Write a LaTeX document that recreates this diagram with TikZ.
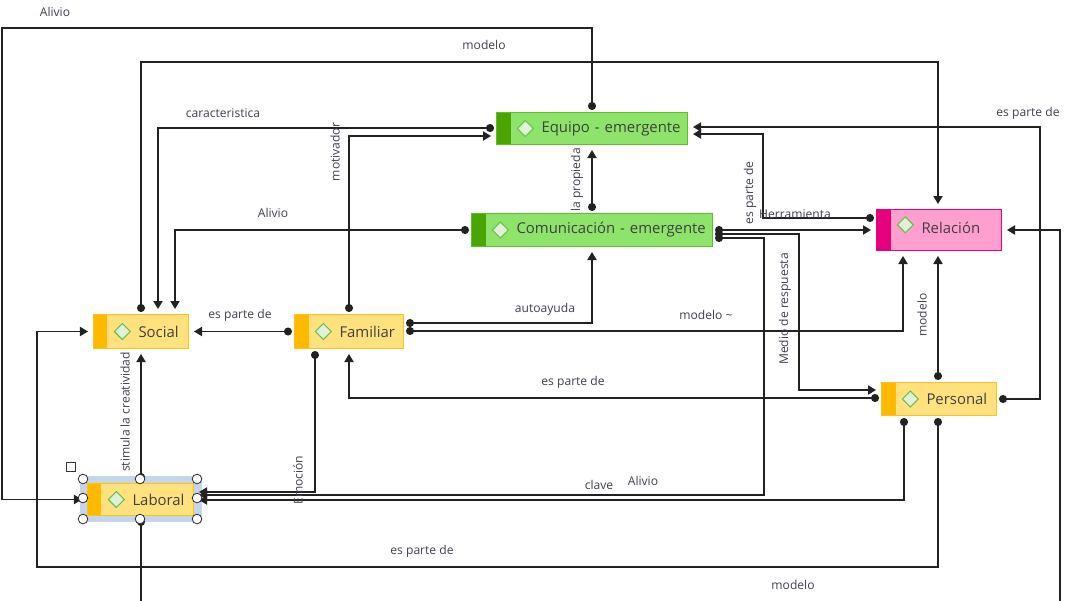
\documentclass[tikz,border=0pt]{standalone}
\usepackage{fontspec}
\setmainfont{Open Sans}
\usetikzlibrary{arrows.meta}

\definecolor{grnstrip}{HTML}{4AA500}
\definecolor{grnbody}{HTML}{8EE46A}
\definecolor{grnline}{HTML}{5CC02C}
\definecolor{pnkstrip}{HTML}{E6007E}
\definecolor{pnkbody}{HTML}{FF9FCF}
\definecolor{ylwstrip}{HTML}{FFBA00}
\definecolor{ylwbody}{HTML}{FFE27E}
\definecolor{ylwline}{HTML}{FFC21A}
\definecolor{diamline}{HTML}{6CC04A}
\definecolor{diamfill}{HTML}{DFF1D9}
\definecolor{selblue}{HTML}{C6D6EA}
\definecolor{lbltext}{HTML}{404050}
\definecolor{wire}{HTML}{222222}

\tikzset{
  diamlift/.initial=0cm,
  entity/.style n args={3}{rectangle, draw=#1, line width=0.7pt, fill=#2, anchor=north west,
    inner sep=0pt, align=left, text=black!75, font=\fontsize{10.6}{12}\selectfont,
    path picture={
      \fill[#3] (path picture bounding box.north west) rectangle ([xshift=0.35cm]path picture bounding box.south west);
      \draw[diamline, fill=diamfill, line width=0.8pt]
        ([xshift=0.72cm, yshift=\pgfkeysvalueof{/tikz/diamlift}]path picture bounding box.west)
        +(-0.2cm,0) -- +(0,0.2cm) -- +(0.2cm,0) -- +(0,-0.2cm) -- cycle;}},
  grnent/.style={entity={grnline}{grnbody}{grnstrip}},
  pnkent/.style={entity={pnkstrip}{pnkbody}{pnkstrip}},
  ylwent/.style={entity={ylwline}{ylwbody}{ylwstrip}},
  link/.style={draw=wire, line width=0.95pt, {Circle[length=0.2cm]}-{Triangle[length=0.2cm,width=0.23cm]},
    shorten <=0.05cm, shorten >=0.125cm},
  lbl/.style={font=\fontsize{8.6}{10}\selectfont, text=lbltext, inner sep=1pt},
  handledot/.style={draw=black!80, fill=white, line width=0.6pt}
}

\begin{document}
\begin{tikzpicture}[x=0.025cm, y=-0.025cm]
  \fill[white] (0,0) rectangle (1078,600);
  \useasboundingbox (0,0) rectangle (1078,600);
  %% selection of Laboral
  \fill[selblue] (80,476) rectangle (202,522);

  %% Entities
  \node[grnent, text width=4.775cm, minimum height=0.8cm] (equipo) at (496,112) {\hspace*{1.125cm}Equipo - emergente};
  \node[grnent, text width=6.025cm, minimum height=0.825cm] (comun) at (471,213) {\hspace*{1.125cm}Comunicación - emergente};
  \node[pnkent, diamlift=0.13cm, text width=3.125cm, minimum height=1.025cm] (relacion) at (876,209) {\hspace*{1.125cm}\raisebox{0.13cm}{Relación}};
  \node[ylwent, text width=2.375cm, minimum height=0.85cm] (social) at (93,314) {\hspace*{1.125cm}Social};
  \node[ylwent, text width=2.725cm, minimum height=0.85cm] (familiar) at (294,314) {\hspace*{1.125cm}Familiar};
  \node[ylwent, text width=2.875cm, minimum height=0.825cm] (personal) at (881,382) {\hspace*{1.125cm}Personal};
  \node[ylwent, text width=2.65cm, minimum height=0.8cm] (laboral) at (87,483) {\hspace*{1.125cm}Laboral};

  %% Connectors
  \draw[link] (equipo.north -| 592,0) |- (2,28) |- (laboral.west);
  \draw[link] (social.north -| 141,0) |- (938,62) -- (relacion.north -| 938,0);
  \draw[link] (equipo.west |- 0,128) -| (social.north -| 158,0);
  \draw[link] (familiar.north -| 349,0) |- (equipo.west |- 0,136);
  \draw[link] (comun.west) -| (social.north -| 175,0);
  \draw[link] (familiar.west) -- (social.east);
  \draw[link] (laboral.north -| 141,0) -- (social.south -| 141,0);
  \draw[link] (personal.south -| 938,0) |- (37,567) |- (social.west);
  \draw[link] (familiar.east |- 0,323) -| (comun.south -| 592,0);
  \draw[link] (familiar.east |- 0,331) -| (relacion.south -| 903,0);
  \draw[link] (personal.west |- 0,398) -| (familiar.south -| 349,0);
  \draw[link] (comun.east |- 0,234) -| (799,390) -- (personal.west |- 0,390);
  \draw[link] (comun.east |- 0,238) -| (764,495) -- (laboral.east |- 0,495);
  \draw[link] (comun.east |- 0,230) -- (relacion.west |- 0,230);
  \draw[link] (relacion.west |- 0,218) -| (763,134) -- (equipo.east |- 0,134);
  \draw[link] (personal.east) -| (1040,127) -- (equipo.east |- 0,127);
  \draw[link] (personal.north -| 938,0) -- (relacion.south -| 938,0);
  \draw[link] (familiar.south -| 315,0) |- (laboral.east |- 0,492);
  \draw[link] (personal.south -| 904,0) |- (laboral.east |- 0,500);
  \draw[link] (comun.north -| 592,0) -- (equipo.south -| 592,0);
  \draw[link] (laboral.south -| 141,0) |- (1060,620) |- (relacion.east);

  %% Labels
  \node[lbl] (lalivioA) at (55,12) {Alivio};
  \node[lbl] (lmodeloA) at (484,45) {modelo};
  \node[lbl] (lcaract) at (223,113) {caracteristica};
  \node[lbl, rotate=90] (lmotiv) at (335,152) {motivador};
  \node[lbl, rotate=90] (lpropia) at (577,180) {la propieda};
  \node[lbl, rotate=90] (lparteA) at (750,193) {es parte de};
  \node[lbl] (lherram) at (795,214) {Herramienta};
  \node[lbl] (lalivioB) at (273,213) {Alivio};
  \node[lbl] (lparteB) at (240,315) {es parte de};
  \node[lbl] (lautoay) at (545,309) {autoayuda};
  \node[lbl] (lmodeloB) at (706,315) {modelo \textasciitilde};
  \node[lbl] (lparteC) at (1028,113) {es parte de};
  \node[lbl, rotate=90] (lmedio) at (785,309) {Medio de respuesta};
  \node[lbl, rotate=90] (lmodeloC) at (922,315) {modelo};
  \node[lbl] (lparteD) at (573,382) {es parte de};
  \node[lbl, rotate=90] (lstimula) at (125,412) {stimula la creatividad};
  \node[lbl, rotate=90] (lemocion) at (298,480) {Emoción};
  \node[lbl] (lclave) at (599,485) {clave};
  \node[lbl] (lalivioC) at (643,481) {Alivio};
  \node[lbl] (lparteE) at (422,551) {es parte de};
  \node[lbl] (lmodeloD) at (793,585) {modelo};

  %% selection handles
  \foreach \hx/\hy in {83/479, 140/479, 197/479, 83/498, 197/498, 83/519, 140/519, 197/519}
    \draw[handledot] (\hx,\hy) circle (0.12cm);
  \draw[black!80, line width=0.6pt] (66,462) rectangle (75,471);
\end{tikzpicture}
\end{document}
